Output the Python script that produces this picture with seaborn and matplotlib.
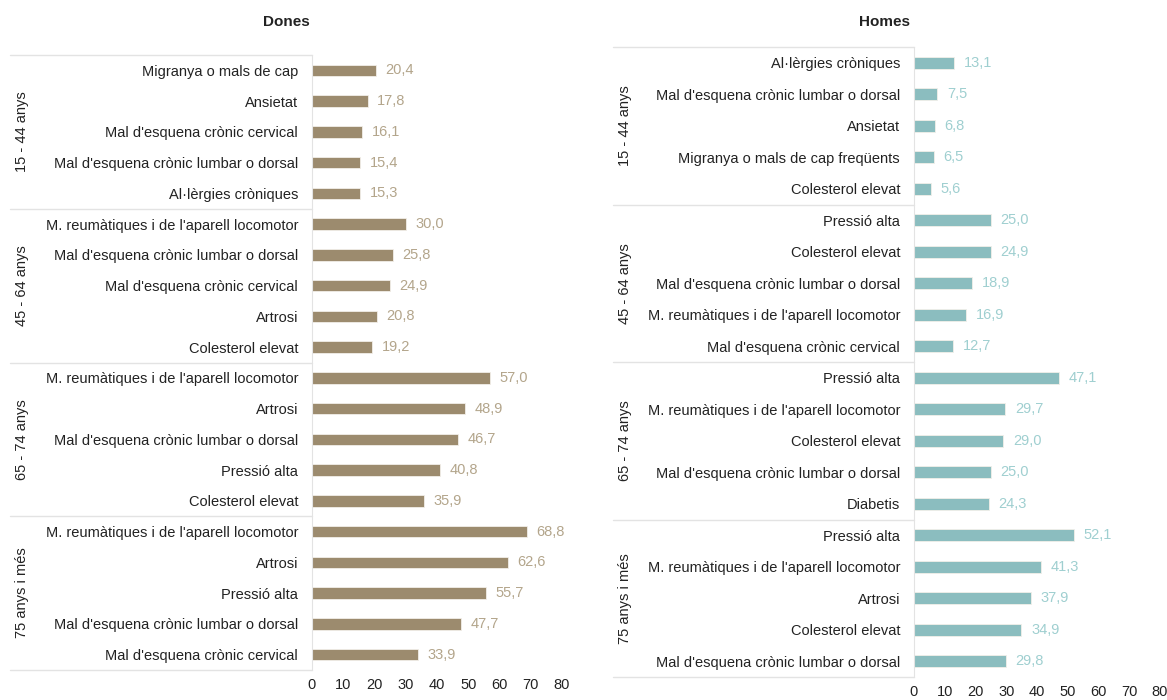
import matplotlib
matplotlib.use("Agg")
import matplotlib.pyplot as plt
import seaborn as sns
import pandas as pd

# ---- data ----------------------------------------------------------------
groups = ["15 - 44 anys", "45 - 64 anys", "65 - 74 anys", "75 anys i més"]

dones_labels = [
    "Migranya o mals de cap", "Ansietat", "Mal d'esquena crònic cervical",
    "Mal d'esquena crònic lumbar o dorsal", "Al·lèrgies cròniques",
    "M. reumàtiques i de l'aparell locomotor", "Mal d'esquena crònic lumbar o dorsal",
    "Mal d'esquena crònic cervical", "Artrosi", "Colesterol elevat",
    "M. reumàtiques i de l'aparell locomotor", "Artrosi",
    "Mal d'esquena crònic lumbar o dorsal", "Pressió alta", "Colesterol elevat",
    "M. reumàtiques i de l'aparell locomotor", "Artrosi", "Pressió alta",
    "Mal d'esquena crònic lumbar o dorsal", "Mal d'esquena crònic cervical",
]
dones_values = [20.4, 17.8, 16.1, 15.4, 15.3,
                30.0, 25.8, 24.9, 20.8, 19.2,
                57.0, 48.9, 46.7, 40.8, 35.9,
                68.8, 62.6, 55.7, 47.7, 33.9]

homes_labels = [
    "Al·lèrgies cròniques", "Mal d'esquena crònic lumbar o dorsal", "Ansietat",
    "Migranya o mals de cap freqüents", "Colesterol elevat",
    "Pressió alta", "Colesterol elevat", "Mal d'esquena crònic lumbar o dorsal",
    "M. reumàtiques i de l'aparell locomotor", "Mal d'esquena crònic cervical",
    "Pressió alta", "M. reumàtiques i de l'aparell locomotor", "Colesterol elevat",
    "Mal d'esquena crònic lumbar o dorsal", "Diabetis",
    "Pressió alta", "M. reumàtiques i de l'aparell locomotor", "Artrosi",
    "Colesterol elevat", "Mal d'esquena crònic lumbar o dorsal",
]
homes_values = [13.1, 7.5, 6.8, 6.5, 5.6,
                25.0, 24.9, 18.9, 16.9, 12.7,
                47.1, 29.7, 29.0, 25.0, 24.3,
                52.1, 41.3, 37.9, 34.9, 29.8]

x_ticks = [0, 10, 20, 30, 40, 50, 60, 70, 80]

sns.set_style("white")
plt.rcParams['font.family'] = ['Liberation Sans', 'DejaVu Sans']

fig = plt.figure(figsize=(11.67, 7), dpi=100)
ax_d = fig.add_axes([312/1167, 1-670/700, 250/1167, 615/700])
ax_h = fig.add_axes([914/1167, 1-677/700, 246/1167, 630/700])

LINE = "#e3e3e3"


def panel(ax, labels, values, bar_col, txt_col, sep_x, grp_x):
    df = pd.DataFrame({"key": [f"{i:02d}" for i in range(len(labels))],
                       "value": values})
    sns.barplot(data=df, y="key", x="value", orient="h", order=df["key"],
                color=bar_col, width=0.37, saturation=1,
                edgecolor="#f2efe9", linewidth=0.6, ax=ax)
    ax.bar_label(ax.containers[0],
                 labels=[f"{v:.1f}".replace(".", ",") for v in values],
                 padding=7, color=txt_col, fontsize=10.5)
    ax.set_xlim(0, 80)
    ax.set_ylim(len(labels) - 0.5, -0.5)
    ax.set_xticks(x_ticks)
    ax.set_yticks(range(len(labels)))
    ax.set_yticklabels(labels)
    ax.set_xlabel("")
    ax.set_ylabel("")
    ax.tick_params(axis="both", length=0, labelsize=10.5, colors="#222222")
    ax.tick_params(axis="y", pad=10)
    ax.tick_params(axis="x", pad=6)
    for s in ["top", "right", "bottom"]:
        ax.spines[s].set_visible(False)
    ax.spines["left"].set_color(LINE)
    tr = ax.get_yaxis_transform()
    for y in [-0.5, 4.5, 9.5, 14.5, 19.5]:
        ax.plot([sep_x, 0], [y, y], color=LINE, lw=1, transform=tr,
                clip_on=False)
    for i, g in enumerate(groups):
        ax.text(grp_x, i * 5 + 2, g, rotation=90, ha="center", va="center",
                fontsize=10.5, color="#222222", transform=tr)


panel(ax_d, dones_labels, dones_values, "#9c8b6e", "#b3a58b",
      (10 - 312) / 250, (22 - 312) / 250)
panel(ax_h, homes_labels, homes_values, "#8bbdbf", "#9fcfd0",
      (613 - 914) / 246, (625 - 914) / 246)

fig.text(286/1167, 1-22/700, "Dones", ha="center", va="center",
         fontsize=11, fontweight="bold", color="#222222")
fig.text(884/1167, 1-22/700, "Homes", ha="center", va="center",
         fontsize=11, fontweight="bold", color="#222222")

fig.savefig("out.png", dpi=100)
